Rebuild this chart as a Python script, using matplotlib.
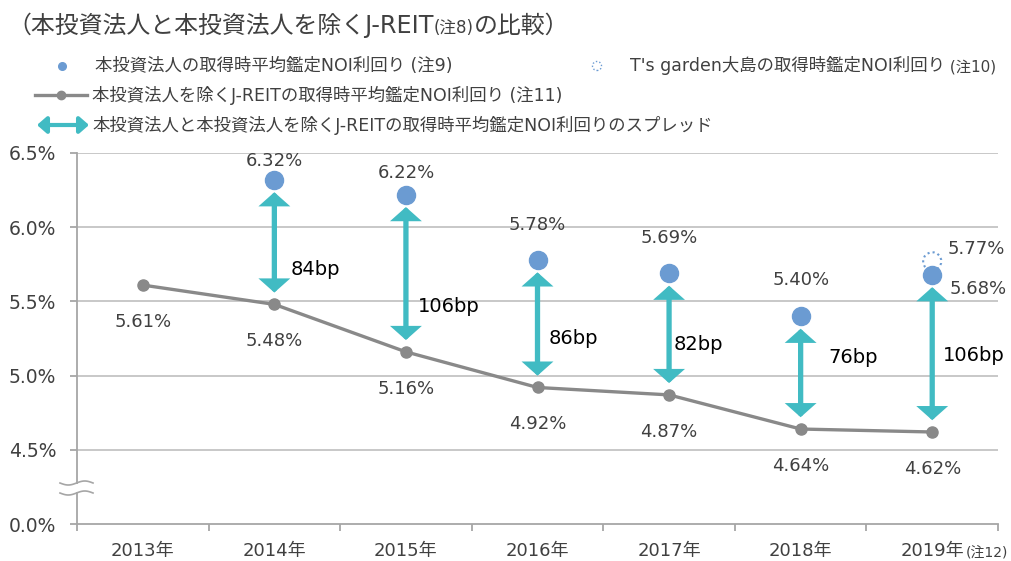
import numpy as np
import matplotlib
matplotlib.use("Agg")
import matplotlib.pyplot as plt
import matplotlib.transforms as mt
from matplotlib.patches import FancyArrowPatch, Rectangle, Ellipse
from matplotlib.lines import Line2D

plt.rcParams['font.family'] = ['DejaVu Sans', 'Noto Sans CJK JP']

# ---- data ----
years = ['2013年', '2014年', '2015年', '2016年', '2017年', '2018年', '2019年']
jreit = [5.61, 5.48, 5.16, 4.92, 4.87, 4.64, 4.62]          # gray line
fund = [None, 6.32, 6.22, 5.78, 5.69, 5.40, 5.68]           # blue dots
tsgarden_idx = 6
tsgarden = 5.77                                              # dotted circle
spread_bp = [None, 84, 106, 86, 82, 76, 106]
y_ticks = [4.0, 4.5, 5.0, 5.5, 6.0, 6.5]
y_tick_labels = ['0.0%', '4.5%', '5.0%', '5.5%', '6.0%', '6.5%']

# ---- style ----
W, H = 1011, 561
TEAL = '#41BBC3'
BLUE = '#6B9BD2'
GRAYL = '#898989'
TXT = '#404040'
GRID = '#BFBFBF'
SPINE = '#A6A6A6'

fig = plt.figure(figsize=(W / 100, H / 100), dpi=100)
ax = fig.add_axes([77 / W, 1 - 524 / H, (998 - 77) / W, (524 - 153) / H])
x = np.arange(len(years))
ax.set_xlim(-0.5, len(years) - 0.5)
ax.set_ylim(y_ticks[0], y_ticks[-1])

for s in ['top', 'right']:
    ax.spines[s].set_visible(False)
for s in ['left', 'bottom']:
    ax.spines[s].set_color(SPINE)
    ax.spines[s].set_linewidth(1.3)

ax.set_yticks(y_ticks)
ax.set_yticklabels(y_tick_labels, fontsize=13.5, color=TXT)
ax.tick_params(axis='y', length=5, color=SPINE, width=1.3, pad=10)
for yt in y_ticks[1:]:
    ax.axhline(yt, color=GRID, lw=1.2, zorder=0)

ax.set_xticks(x)
ax.set_xticklabels(years, fontsize=13, color=TXT)
ax.set_xticks(np.arange(-0.5, len(years)), minor=True)
ax.tick_params(axis='x', which='major', length=0, pad=13)
ax.tick_params(axis='x', which='minor', length=5, color=SPINE, width=1.3)


def px(dx, dy):
    return mt.offset_copy(ax.transData, fig=fig, x=dx, y=dy, units='dots')


# gray line
ax.plot(x, jreit, color=GRAYL, lw=2.4, marker='o', ms=8, mfc=GRAYL, mec=GRAYL, zorder=3)
for xi, v in zip(x, jreit):
    ax.text(xi, v, f'{v:.2f}%', transform=px(0, -37), ha='center', va='center',
            fontsize=13, color=TXT)

# dotted circle (T's garden)
ax.scatter([tsgarden_idx], [tsgarden], s=170, facecolors='white',
           edgecolors=BLUE, linewidths=1.5, linestyles=(0, (1, 1.5)), zorder=4)

# blue dots
fx = [i for i, v in enumerate(fund) if v is not None]
fv = [fund[i] for i in fx]
ax.plot(fx, fv, ls='none', marker='o', ms=13, mfc=BLUE, mec=BLUE, zorder=5)

fund_lbl_off = {1: (0, 19), 2: (0, 22), 3: (0, 35), 4: (0, 35), 5: (0, 36), 6: (46, -14)}
for i in fx:
    dx, dy = fund_lbl_off[i]
    ax.text(i, fund[i], f'{fund[i]:.2f}%', transform=px(dx, dy), ha='center',
            va='center', fontsize=13, color=TXT)
ax.text(tsgarden_idx, tsgarden, f'{tsgarden:.2f}%', transform=px(44, 12),
        ha='center', va='center', fontsize=13, color=TXT)

# spread arrows
for i in fx:
    a = FancyArrowPatch((i, jreit[i]), (i, fund[i]), transform=ax.transData,
                        arrowstyle='<|-|>,head_width=0.36,head_length=0.32',
                        mutation_scale=18, lw=3.8, color=TEAL,
                        shrinkA=8.5, shrinkB=9, zorder=4, joinstyle='miter')
    ax.add_patch(a)

bp_off = {1: (16, -27), 2: (12, -33), 3: (11, -15), 4: (5, -10), 5: (28, 15), 6: (11, -2)}
for i in fx:
    mid = (fund[i] + jreit[i]) / 2
    dx, dy = bp_off[i]
    ax.text(i, mid, f'{spread_bp[i]}bp', transform=px(dx, dy), ha='left', va='center',
            fontsize=14, color='black')

# (注12) after last tick label
ax.text(len(years) - 1, y_ticks[0], '(注12)', transform=px(34, -29), ha='left',
        va='center', fontsize=10, color=TXT, clip_on=False)


# axis break mark
def fxy(xp, yp):
    return xp / W, 1 - yp / H


bx0, by0 = fxy(70, 492)
bx1, by1 = fxy(84, 484)
fig.add_artist(Rectangle((bx0, by0), bx1 - bx0, by1 - by0, transform=fig.transFigure,
                         facecolor='white', edgecolor='none', zorder=5))
t = np.linspace(0, 1, 60)
for yc in (483, 493):
    xs = 60 + 33 * t
    ys = yc + 2.0 * np.sin(2 * np.pi * t)
    fig.add_artist(Line2D(xs / W, 1 - ys / H, transform=fig.transFigure,
                          color=SPINE, lw=1.2, zorder=6))

# ---- title (pieced) ----
renderer = fig.canvas.get_renderer()


def seq_text(xp, yp, pieces):
    cur = xp
    for s, fs in pieces:
        tt = fig.text(cur / W, 1 - yp / H, s, fontsize=fs, color=TXT, ha='left', va='baseline')
        bb = tt.get_window_extent(renderer=renderer)
        cur += bb.width


seq_text(7, 33, [('（本投資法人と本投資法人を除くJ-REIT', 17.2), ('(注8)', 12), ('の比較）', 17.2)])

# ---- legend ----
fs_leg = 12.5
fig.add_artist(Line2D([62 / W], [1 - 66 / H], marker='o', ms=5.5, color=BLUE,
                      transform=fig.transFigure))
fig.text(95 / W, 1 - 66 / H, '本投資法人の取得時平均鑑定NOI利回り (注9)', fontsize=fs_leg,
         color=TXT, va='center')
fig.add_artist(Ellipse((597 / W, 1 - 66 / H), 9 / W, 9 / H, transform=fig.transFigure,
                       facecolor='none', edgecolor=BLUE, lw=1.0, linestyle=(0, (1, 1.5))))
seq_text(630, 71, [("T's garden大島の取得時鑑定NOI利回り", fs_leg), (' (注10)', 11)])

fig.add_artist(Line2D([35 / W, 87 / W], [1 - 95 / H] * 2, color=GRAYL, lw=2.4,
                      transform=fig.transFigure))
fig.add_artist(Line2D([61 / W], [1 - 95 / H], marker='o', ms=6, color=GRAYL,
                      transform=fig.transFigure))
fig.text(92 / W, 1 - 95 / H, '本投資法人を除くJ-REITの取得時平均鑑定NOI利回り (注11)',
         fontsize=fs_leg, color=TXT, va='center')

fig.add_artist(FancyArrowPatch((37 / W, 1 - 125 / H), (89 / W, 1 - 125 / H),
                               transform=fig.transFigure,
                               arrowstyle='<|-|>,head_width=0.35,head_length=0.4',
                               mutation_scale=14, lw=3, color=TEAL, shrinkA=0, shrinkB=0))
fig.text(92 / W, 1 - 125 / H, '本投資法人と本投資法人を除くJ-REITの取得時平均鑑定NOI利回りのスプレッド',
         fontsize=fs_leg, color=TXT, va='center')

fig.savefig('out.png', dpi=100)
